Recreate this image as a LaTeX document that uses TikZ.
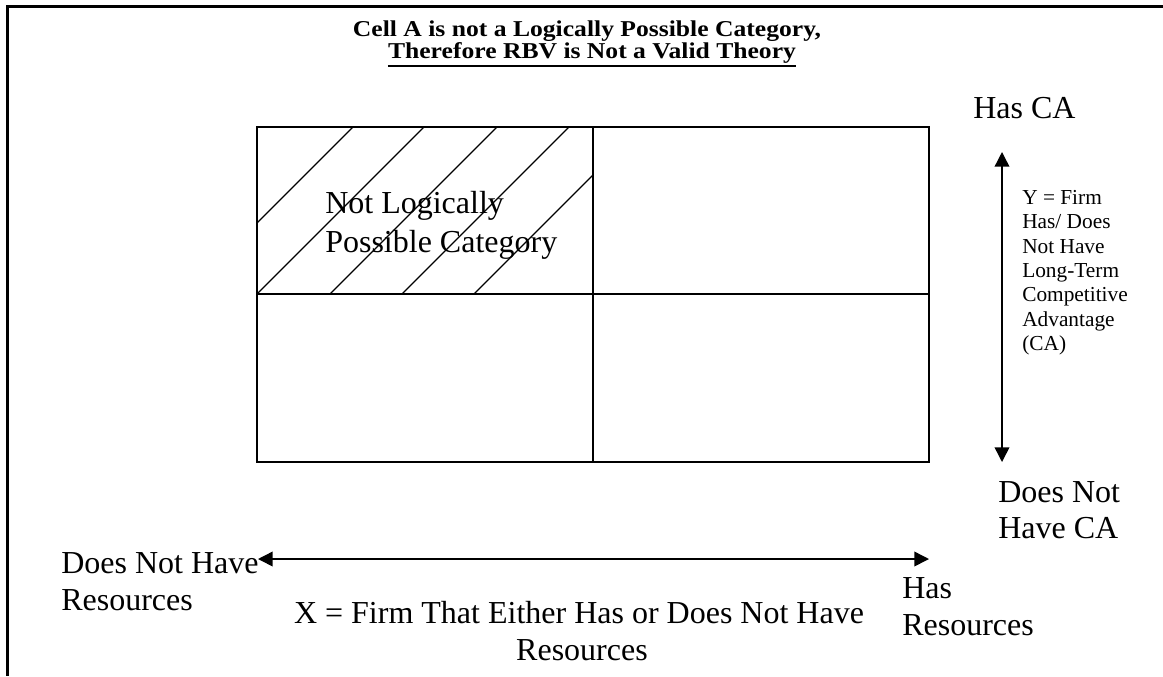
\documentclass[tikz,border=0pt]{standalone}
\usepackage{fontspec}
\usepackage{graphicx}
\setmainfont{Liberation Serif}
\usetikzlibrary{arrows.meta}
\begin{document}
\begin{tikzpicture}[x=0.75pt,y=-0.75pt,
  txt/.style={inner sep=0pt, anchor=base west, font=\fontsize{24}{28}\selectfont},
  small/.style={inner sep=0pt, anchor=base west, font=\fontsize{16}{19}\selectfont},
  ttl/.style={inner sep=0pt, anchor=base, font=\fontsize{17}{20}\selectfont\bfseries},
  frame/.style={line width=2.25pt},
  grid/.style={line width=1.2pt},
  hatch/.style={line width=1pt},
  axis/.style={line width=1.1pt, {Triangle[length=11pt,width=11pt]}-{Triangle[length=11pt,width=11pt]}}]
\useasboundingbox (0,0) rectangle (1163,676);
% frame (top and left only)
\coordinate (ftl) at (7,6);
\coordinate (ftr) at (1163,6);
\coordinate (fbl) at (7,676);
\draw[frame] (ftr) -- (ftl) -- (fbl);
% title
\node[ttl] (t1) at (587,36) {\scalebox{1.13}[1]{Cell A is not a Logically Possible Category,}};
\node[ttl] (t2) at (592,58) {\scalebox{1.13}[1]{Therefore RBV is Not a Valid Theory}};
\draw[line width=1.2pt] ([yshift=-6pt]t2.base west) -- ([yshift=-6pt]t2.base east);
% grid
\coordinate (g00) at (257,127);
\coordinate (g11) at (929,462);
\coordinate (gmt) at (593,127);
\coordinate (gmb) at (593,462);
\coordinate (gml) at (257,294);
\coordinate (gmr) at (929,294);
\draw[grid] (g00) rectangle (g11);
\draw[grid] (gmt) -- (gmb);
\draw[grid] (gml) -- (gmr);
% hatching in cell A
\draw[hatch] (257,223) -- (353,127);
\draw[hatch] (257,294) -- (424,127);
\draw[hatch] (330,294) -- (497,127);
\draw[hatch] (402,294) -- (569,127);
\draw[hatch] (474,294) -- (593,175);
\node[txt] (na1) at (325,213) {Not Logically};
\node[txt] (na2) at (325,252) {Possible Category};
% vertical axis
\coordinate (vt) at (1002,152);
\coordinate (vb) at (1002,462);
\draw[axis] (vt) -- (vb);
\node[txt] (hca) at (973,118) {Has CA};
\node[txt] (dn1) at (998,502) {Does Not};
\node[txt] (dn2) at (998,538) {Have CA};
\node[small] (y1) at (1022,204) {Y = Firm};
\node[small] (y2) at (1022,228) {Has/ Does};
\node[small] (y3) at (1022,253) {Not Have};
\node[small] (y4) at (1022,277) {Long-Term};
\node[small] (y5) at (1022,301) {Competitive};
\node[small] (y6) at (1022,326) {Advantage};
\node[small] (y7) at (1022,350) {(CA)};
% horizontal axis
\coordinate (hl) at (258,559);
\coordinate (hr) at (929,559);
\draw[axis] (hl) -- (hr);
\node[txt] (nr1) at (61,573) {Does Not Have};
\node[txt] (nr2) at (61,610) {Resources};
\node[txt] (hr1) at (902,598) {Has};
\node[txt] (hr2) at (902,635) {Resources};
\node[txt, anchor=base] (x1) at (579,623) {X = Firm That Either Has or Does Not Have};
\node[txt, anchor=base] (x2) at (582,660) {Resources};
\end{tikzpicture}
\end{document}
